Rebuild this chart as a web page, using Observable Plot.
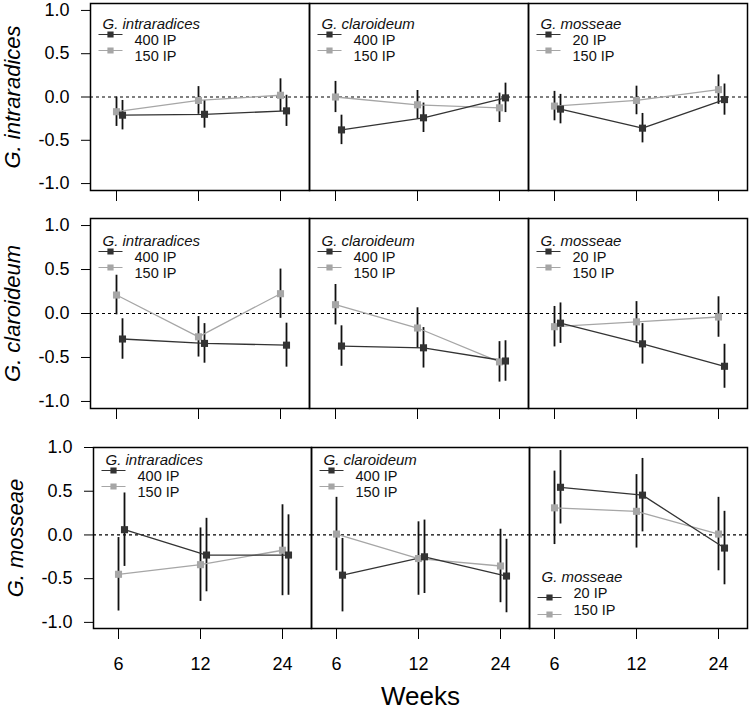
<!DOCTYPE html>
<html><head><meta charset="utf-8">
<script src="https://cdn.jsdelivr.net/npm/d3@7"></script>
<script src="https://cdn.jsdelivr.net/npm/@observablehq/plot@0.6"></script>
<style>
body{margin:0;background:#fff;}
#chart{width:750px;height:710px;overflow:hidden;font-family:"Liberation Sans",Arial,sans-serif;}
#chart svg{display:block;overflow:visible;}
g[aria-label="y-axis label"], g[aria-label="y-axis label"] text{font-size:22px !important;font-style:italic;}
g[aria-label="x-axis label"], g[aria-label="x-axis label"] text{font-size:26px !important;}
</style></head><body><div id="chart"></div>
<script>
// ---- data ----
const weeks = [6, 12, 24];
const rowNames = ["G. intraradices", "G. claroideum", "G. mosseae"];
const colNames = ["G. intraradices", "G. claroideum", "G. mosseae"];
const highDose = ["400 IP", "400 IP", "20 IP"];
const lowDose = "150 IP";
// [row][column][week]
const meanHigh = [
  [[-0.21, -0.20, -0.16], [-0.38, -0.24, -0.01], [-0.14, -0.36, -0.03]],
  [[-0.29, -0.34, -0.36], [-0.37, -0.39, -0.54], [-0.11, -0.345, -0.60]],
  [[0.06, -0.23, -0.23], [-0.46, -0.25, -0.47], [0.545, 0.455, -0.15]]
];
const errHigh = [
  [[0.17, 0.16, 0.18], [0.17, 0.17, 0.17], [0.17, 0.17, 0.18]],
  [[0.23, 0.225, 0.25], [0.23, 0.23, 0.23], [0.23, 0.23, 0.25]],
  [[0.42, 0.42, 0.46], [0.42, 0.42, 0.42], [0.42, 0.42, 0.42]]
];
const meanLow = [
  [[-0.17, -0.04, 0.02], [0.00, -0.09, -0.125], [-0.105, -0.04, 0.085]],
  [[0.21, -0.265, 0.225], [0.10, -0.165, -0.55], [-0.15, -0.095, -0.04]],
  [[-0.45, -0.34, -0.175], [0.01, -0.27, -0.355], [0.31, 0.27, 0.01]]
];
const errLow = [
  [[0.17, 0.16, 0.19], [0.18, 0.165, 0.17], [0.17, 0.165, 0.17]],
  [[0.225, 0.23, 0.28], [0.23, 0.23, 0.23], [0.23, 0.23, 0.23]],
  [[0.42, 0.42, 0.52], [0.42, 0.42, 0.42], [0.42, 0.42, 0.42]]
];
const yTicks = [-1, -0.5, 0, 0.5, 1];

// ---- styling / layout ----
const DARK = "#333333", LIGHT = "#a6a6a6";
const rowLayout = [
  {height: 216, marginTop: 3, marginBottom: 26, marginLeft: 89, domain: [-1.08, 1.08], legendShift: -1},
  {height: 222, marginTop: 2, marginBottom: 30, marginLeft: 89, domain: [-1.08, 1.08], legendShift: 1},
  {height: 272, marginTop: 9, marginBottom: 82, marginLeft: 92, domain: [-1.07, 1.0], legendShift: -9}
];
const legendSymbol = {draw(ctx) { ctx.moveTo(-12, 0); ctx.lineTo(12, 0); ctx.rect(-2.5, -2.5, 5, 5); }};

function rowPlot(r) {
  const L = rowLayout[r];
  const last = r === rowNames.length - 1;
  const high = [], low = [];
  colNames.forEach((c, ci) => weeks.forEach((w, wi) => {
    high.push({col: c, week: w, mean: meanHigh[r][ci][wi], err: errHigh[r][ci][wi]});
    low.push({col: c, week: w, mean: meanLow[r][ci][wi], err: errLow[r][ci][wi]});
  }));
  const leg = colNames.map((c, ci) => ({col: c, title: c, hi: highDose[ci], lo: lowDose, bottom: last && ci === 2}));
  const legTop = leg.filter(d => !d.bottom), legBot = leg.filter(d => d.bottom);
  const s = L.legendShift;
  function legendMarks(data, anchor, y0, y1, y2) {
    return [
      Plot.text(data, {fx: "col", text: "title", frameAnchor: anchor, dx: 12, dy: y0, textAnchor: "start", fontStyle: "italic", fontSize: 15, fill: "#111"}),
      Plot.dot(data, {fx: "col", frameAnchor: anchor, dx: 20, dy: y1, symbol: legendSymbol, fill: DARK, stroke: DARK, strokeWidth: 1.2}),
      Plot.dot(data, {fx: "col", frameAnchor: anchor, dx: 20, dy: y2, symbol: legendSymbol, fill: LIGHT, stroke: LIGHT, strokeWidth: 1.2}),
      Plot.text(data, {fx: "col", text: "hi", frameAnchor: anchor, dx: 44, dy: y1, textAnchor: "start", fontSize: 14.5, fill: "#111"}),
      Plot.text(data, {fx: "col", text: "lo", frameAnchor: anchor, dx: 44, dy: y2, textAnchor: "start", fontSize: 14.5, fill: "#111"})
    ];
  }
  return Plot.plot({
    width: 750, height: L.height,
    marginLeft: L.marginLeft, marginRight: 2, marginTop: L.marginTop, marginBottom: L.marginBottom,
    style: {fontFamily: "Liberation Sans, Arial, sans-serif", fontSize: "18px", color: "black", background: "white"},
    fx: {domain: colNames, padding: 0, axis: null},
    x: {type: "point", domain: weeks, padding: 0, insetLeft: 25, insetRight: 29,
        tickSize: 11, tickPadding: 18, tickFormat: last ? (d => String(d)) : (() => ""),
        label: last ? "Weeks" : null, labelAnchor: "center", labelOffset: 76, labelArrow: "none"},
    y: {domain: L.domain, ticks: yTicks, tickFormat: d => d.toFixed(1), tickSize: 9, tickPadding: 12,
        label: rowNames[r], labelAnchor: "center", labelOffset: 86, labelArrow: "none"},
    marks: [
      Plot.ruleY([0], {stroke: "black", strokeWidth: 1.2, strokeDasharray: "3,3"}),
      Plot.ruleX(low, {fx: "col", x: "week", y1: d => d.mean - d.err, y2: d => d.mean + d.err, stroke: "#111", strokeWidth: 1.8}),
      Plot.ruleX(high, {fx: "col", x: "week", y1: d => d.mean - d.err, y2: d => d.mean + d.err, stroke: "#111", strokeWidth: 1.8, dx: 6}),
      Plot.line(low, {fx: "col", x: "week", y: "mean", stroke: LIGHT, strokeWidth: 1.3}),
      Plot.line(high, {fx: "col", x: "week", y: "mean", stroke: DARK, strokeWidth: 1.3, dx: 6}),
      Plot.dot(low, {fx: "col", x: "week", y: "mean", symbol: "square", r: 4, fill: LIGHT}),
      Plot.dot(high, {fx: "col", x: "week", y: "mean", symbol: "square", r: 4, fill: DARK, dx: 6}),
      ...legendMarks(legTop, "top-left", 16 + s, 32 + s, 48 + s),
      ...legendMarks(legBot, "bottom-left", -47, -31, -14),
      Plot.frame({stroke: "black", strokeWidth: 1.5})
    ]
  });
}

const chart = document.getElementById("chart");
rowNames.forEach((_, r) => chart.appendChild(rowPlot(r)));
</script></body></html>
